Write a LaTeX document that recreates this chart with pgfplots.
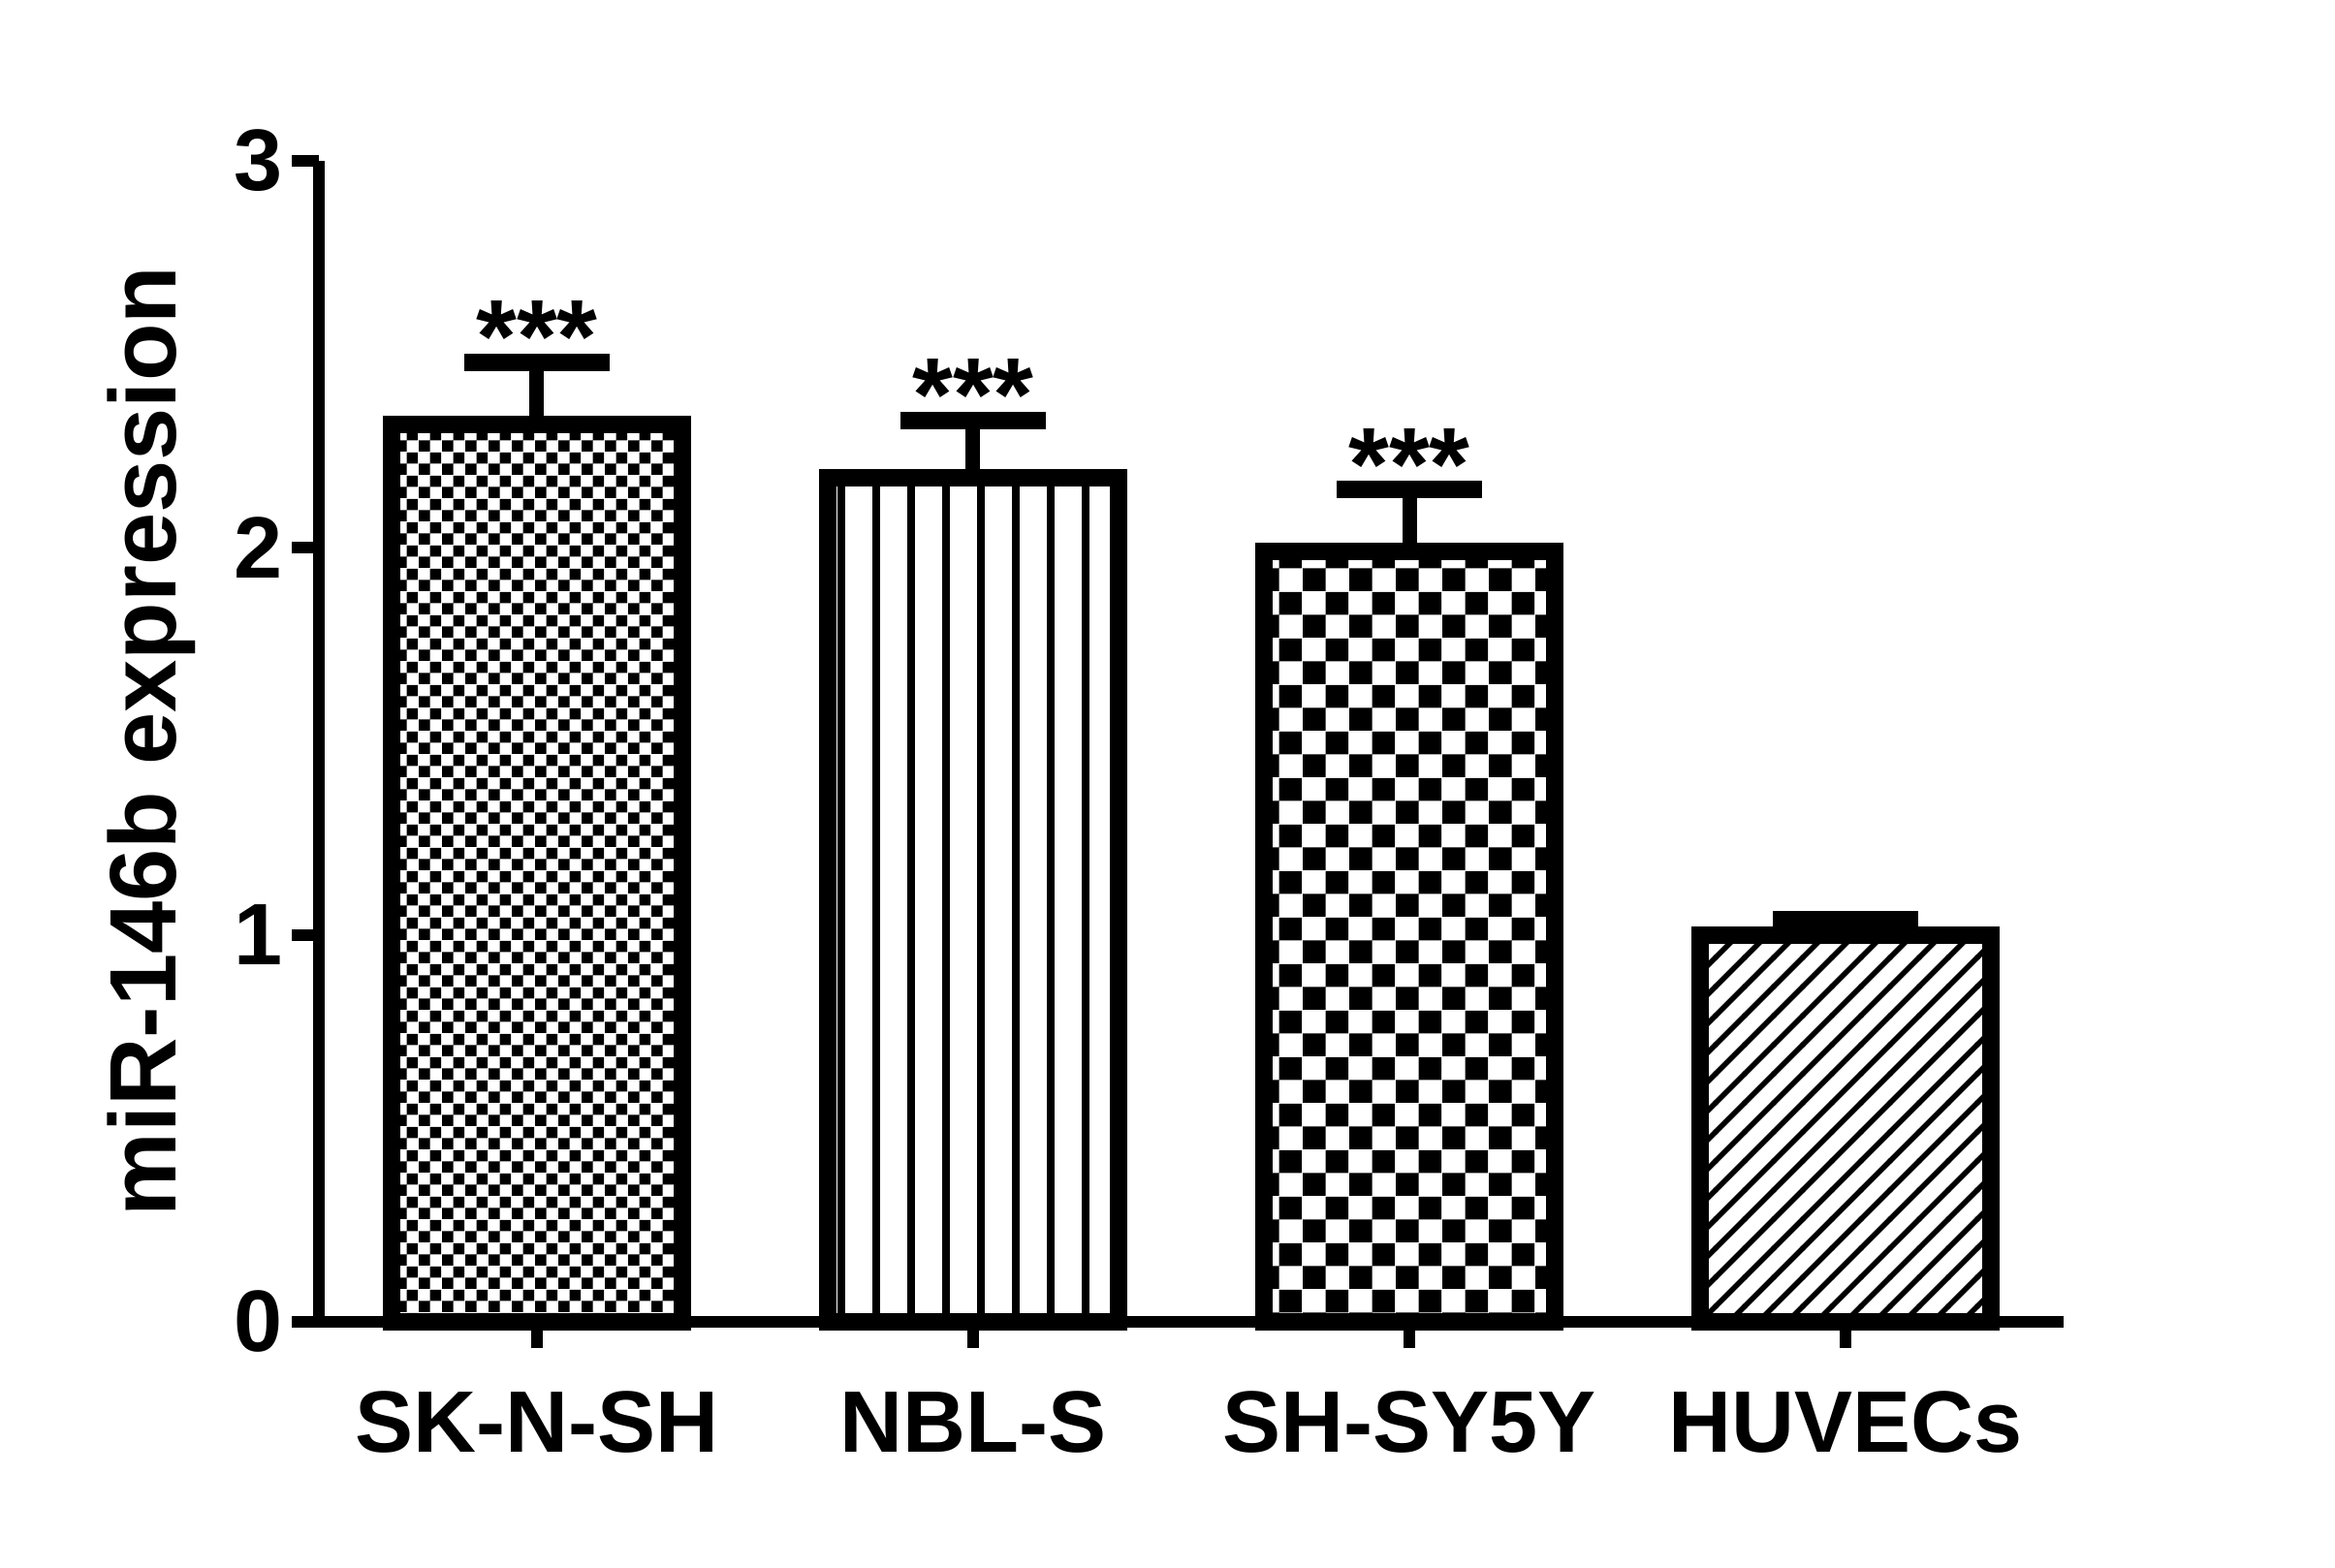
\documentclass[border=0pt]{standalone}
\usepackage{pgfplots}
\pgfplotsset{compat=1.18}
\usepackage{fontspec}
\setmainfont{Liberation Sans}
\usetikzlibrary{patterns}

% fill patterns of the four bars
\pgfdeclarepatternformonly{finechecker}{\pgfqpoint{0pt}{0pt}}{\pgfqpoint{4.8pt}{4.8pt}}{\pgfqpoint{4.8pt}{4.8pt}}{%
  \pgfpathrectangle{\pgfqpoint{0pt}{0pt}}{\pgfqpoint{2.4pt}{2.4pt}}%
  \pgfpathrectangle{\pgfqpoint{2.4pt}{2.4pt}}{\pgfqpoint{2.4pt}{2.4pt}}%
  \pgfusepath{fill}}
\pgfdeclarepatternformonly{coarsechecker}{\pgfqpoint{0pt}{0pt}}{\pgfqpoint{9.6pt}{9.6pt}}{\pgfqpoint{9.6pt}{9.6pt}}{%
  \pgfpathrectangle{\pgfqpoint{0pt}{0pt}}{\pgfqpoint{4.8pt}{4.8pt}}%
  \pgfpathrectangle{\pgfqpoint{4.8pt}{4.8pt}}{\pgfqpoint{4.8pt}{4.8pt}}%
  \pgfusepath{fill}}
\pgfdeclarepatternformonly{vlines}{\pgfqpoint{0pt}{-2pt}}{\pgfqpoint{7.2pt}{26pt}}{\pgfqpoint{7.2pt}{24pt}}{%
  \pgfpathrectangle{\pgfqpoint{0pt}{-2pt}}{\pgfqpoint{1.5pt}{28pt}}%
  \pgfusepath{fill}}
\pgfdeclarepatternformonly{nelines}{\pgfqpoint{-1pt}{-1pt}}{\pgfqpoint{7pt}{7pt}}{\pgfqpoint{6pt}{6pt}}{%
  \pgfsetlinewidth{1.1pt}%
  \pgfpathmoveto{\pgfqpoint{-0.1pt}{-0.1pt}}%
  \pgfpathlineto{\pgfqpoint{6.1pt}{6.1pt}}%
  \pgfusepath{stroke}}

\pgfplotsset{
  sbar/.style={ybar, bar shift=0pt, bar width=0.667, draw=black, line width=3.6pt, pattern=#1,
    error bars/.cd, y dir=plus, y explicit,
    error bar style={line width=3pt},
    error mark options={rotate=90, mark size=15pt, line width=3.6pt}},
}

\begin{document}
\begin{tikzpicture}
\useasboundingbox (-65.8pt,-50.8pt) rectangle (416pt,272.8pt);
\begin{axis}[
    at={(0,0)}, anchor=south west,
    scale only axis,
    width=360pt, height=239.6pt,
    xmin=-0.5, xmax=3.5,
    ymin=0, ymax=3,
    axis lines=left,
    axis line style={-},
    x axis line style={line width=2.4pt},
    y axis line style={line width=2.4pt},
    xtick={0,1,2,3},
    xticklabels={SK-N-SH,NBL-S,SH-SY5Y,HUVECs},
    ytick={0,1,2,3},
    tick align=outside,
    major tick length=5.5pt,
    tick style={line width=2.4pt, black},
    /pgf/number format/assume math mode=true,
    ticklabel style={font=\fontsize{18}{20}\selectfont\bfseries},
    xticklabel style={yshift=-5.2pt},
    yticklabel style={xshift=1.5pt},
    ylabel={miR-146b expression},
    ylabel style={at={(axis description cs:-0.0817,0.5)}, anchor=base,
      font=\fontsize{19.5}{22}\selectfont\bfseries},
    clip=false,
]
\addplot[sbar=finechecker] coordinates {(0,2.32) +- (0,0.16)};
\addplot[sbar=vlines] coordinates {(1,2.18) +- (0,0.15)};
\addplot[sbar=coarsechecker] coordinates {(2,1.99) +- (0,0.16)};
\addplot[sbar=nelines] coordinates {(3,1.00) +- (0,0.04)};
% significance marks above the error bars
\addplot[draw=none, mark=none, nodes near coords, point meta=explicit symbolic,
  nodes near coords style={anchor=base, yshift=-2.2pt, inner sep=0pt,
    font=\fontsize{21.5}{22}\selectfont\bfseries}]
  coordinates {(0,2.48) [***] (1,2.33) [***] (2,2.15) [***]};
\end{axis}
\end{tikzpicture}
\end{document}
